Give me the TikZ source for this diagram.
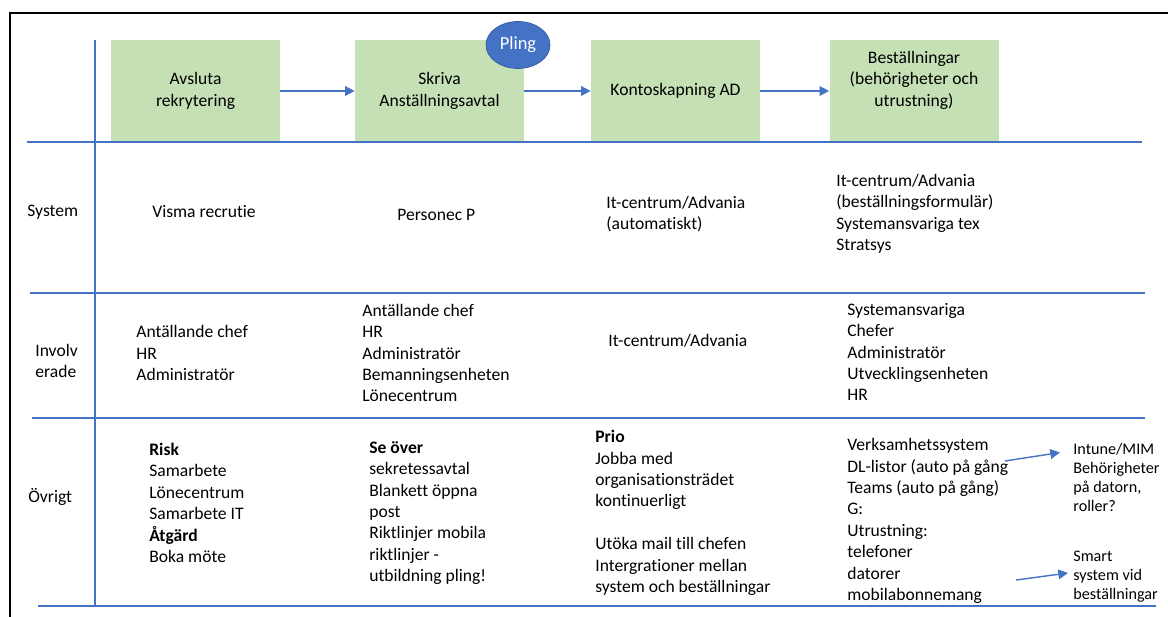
\documentclass[tikz,border=0pt]{standalone}
\usepackage{fontspec}
\setmainfont{Carlito}[Ligatures={NoCommon}]
\usetikzlibrary{arrows.meta,shapes.geometric}
\definecolor{laneblue}{HTML}{4472C4}
\definecolor{stepgreen}{HTML}{C5E0B4}

\begin{document}
\begin{tikzpicture}[x=0.02cm,y=-0.02cm,
  stepbox/.style={fill=stepgreen,minimum width=3.38cm,minimum height=2.04cm,align=center,inner sep=0pt,font=\fontsize{10pt}{12.2pt}\selectfont},
  txt/.style={anchor=west,align=left,inner sep=0pt,font=\fontsize{10pt}{12.2pt}\selectfont},
  smalltxt/.style={txt,font=\fontsize{9.2pt}{10.8pt}\selectfont},
  lane/.style={laneblue,line width=0.8pt},
  flow/.style={laneblue,line width=0.8pt,-{Triangle[length=5.5pt,width=5.5pt]}}]
\useasboundingbox (0,0) rectangle (1168,617);
% frame
\draw[line width=1.2pt] (1168,13) -- (10,13) -- (10,617);
% process steps
\node[stepbox] (avsluta) at (195.5,91) {Avsluta\\rekrytering};
\node[stepbox] (skriva) at (439.5,91) {Skriva\\Anställningsavtal};
\node[stepbox] (konto) at (675.5,91) {Kontoskapning AD};
\node[stepbox] (bestall) at (914,91) {};
\node[align=center,inner sep=0pt,font=\fontsize{10pt}{12.2pt}\selectfont] (bestalltxt) at (914,80) {Beställningar\\(behörigheter och\\utrustning)};
\node[ellipse,fill=laneblue,draw=laneblue!80!black,line width=0.4pt,minimum width=1.28cm,minimum height=0.94cm,inner sep=0pt,text=white,font=\fontsize{10.5pt}{12pt}\selectfont] (pling) at (518,45) {Pling};
\draw[flow] (avsluta) -- (skriva);
\draw[flow] (skriva) -- (konto);
\draw[flow] (konto) -- (bestall);
% swimlanes
\draw[lane] (95,40) -- (95,605);
\draw[lane] (27,142) -- (1142,142);
\draw[lane] (30,293) -- (1145,293);
\draw[lane] (32,418) -- (1145,418);
\draw[lane] (38,606) -- (1156,606);
% row labels
\node[txt] (system) at (27,212) {System};
\node[txt] (involv) at (35,361) {Involv\\erade};
\node[txt] (ovrigt) at (28,497) {Övrigt};
% system
\node[txt] (sys1) at (152,212) {Visma recrutie};
\node[txt] (sys2) at (397,215) {Personec P};
\node[txt] (sys3) at (606,214) {It-centrum/Advania\\(automatiskt)};
\node[txt] (sys4) at (836,214) {It-centrum/Advania\\(beställningsformulär)\\Systemansvariga tex\\Stratsys};
% involverade
\node[txt] (inv1) at (136,353) {Antällande chef\\HR\\Administratör};
\node[txt] (inv2) at (362,353) {Antällande chef\\HR\\Administratör\\Bemanningsenheten\\Lönecentrum};
\node[txt] (inv3) at (608,341) {It-centrum/Advania};
\node[txt] (inv4) at (847,352) {Systemansvariga\\Chefer\\Administratör\\Utvecklingsenheten\\HR};
% övrigt
\node[txt] (ovr1) at (149,503) {\textbf{Risk}\\Samarbete\\Lönecentrum\\Samarbete IT\\\textbf{Åtgärd}\\Boka möte};
\node[txt] (ovr2) at (369,513) {\textbf{Se över}\\sekretessavtal\\Blankett öppna\\post\\Riktlinjer mobila\\riktlinjer -\\utbildning pling!};
\node[txt] (ovr3) at (595,513) {\textbf{Prio}\\Jobba med\\organisationsträdet\\kontinuerligt\\[12.2pt]Utöka mail till chefen\\Intergrationer mellan\\system och beställningar};
\node[txt] (ovr4) at (847,521) {Verksamhetssystem\\DL-listor (auto på gång\\Teams (auto på gång)\\G:\\Utrustning:\\telefoner\\datorer\\mobilabonnemang};
\node[smalltxt] (intune) at (1073,477) {Intune/MIM\\Behörigheter\\på datorn,\\roller?};
\node[smalltxt] (smart) at (1073,577) {Smart\\system vid\\beställningar};
\coordinate (verks) at (1005,461);
\coordinate (mobil) at (1016,580);
\draw[flow] (verks) -- ([shift={(-13,10)}]intune.north west);
\draw[flow] (mobil) -- ([shift={(-5,22)}]smart.north west);
\end{tikzpicture}
\end{document}
